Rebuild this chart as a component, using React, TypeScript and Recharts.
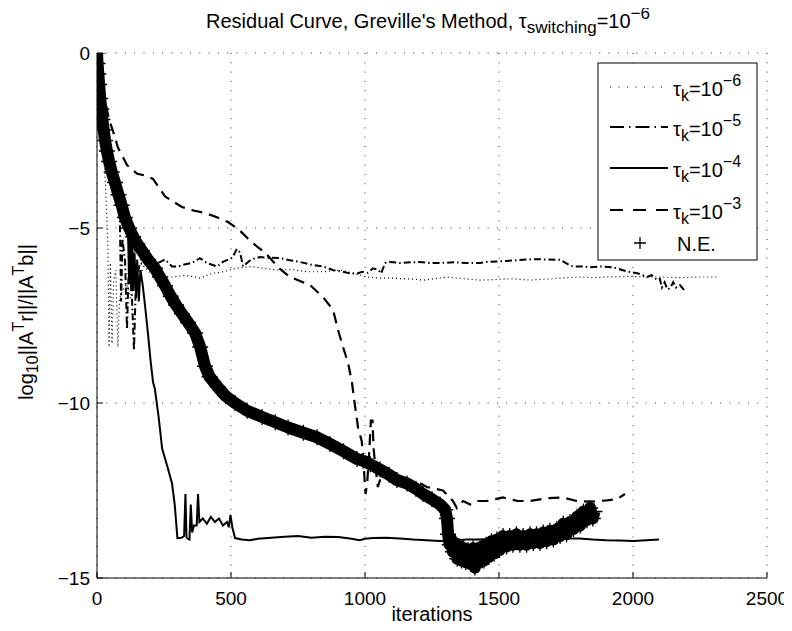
import { LineChart, Line, XAxis, YAxis, CartesianGrid } from "recharts";

// [iteration, log10 residual]
const tau6: [number, number][] = [
  [0, 0], [15, -1.5], [30, -3.5], [40, -5.3], [45, -8.4], [50, -6.0], [56, -8.3], [62, -6.5],
  [70, -6.2], [78, -8.4], [84, -7.0], [95, -6.8], [110, -6.6], [125, -7.0], [140, -6.3],
  [155, -6.5], [175, -6.1], [200, -6.3], [230, -6.4], [284, -6.4], [330, -6.35], [384, -6.43],
  [430, -6.3], [470, -6.25], [520, -6.15], [571, -6.1], [620, -6.15], [671, -6.2], [720, -6.18],
  [784, -6.25], [850, -6.25], [907, -6.2], [960, -6.3], [1007, -6.4], [1056, -6.43], [1093, -6.43],
  [1140, -6.45], [1180, -6.46], [1217, -6.49], [1260, -6.45], [1306, -6.4], [1370, -6.45],
  [1429, -6.49], [1490, -6.47], [1552, -6.45], [1616, -6.49], [1653, -6.47], [1700, -6.45],
  [1750, -6.42], [1802, -6.4], [1850, -6.42], [1900, -6.4], [1989, -6.38], [2050, -6.4],
  [2100, -6.4], [2175, -6.42], [2240, -6.4], [2313, -6.4],
];

const tau5: [number, number][] = [
  [0, 0], [20, -1.5], [45, -3], [70, -4.0], [85, -4.6], [90, -7.1], [95, -5.3], [105, -6.0],
  [112, -7.9], [118, -6.2], [128, -6.5], [138, -8.5], [145, -6.6], [160, -6.0], [200, -6.1],
  [254, -5.9], [280, -6.1], [303, -6.1], [321, -6.05], [354, -6.0], [384, -5.86], [410, -6.0],
  [448, -6.1], [470, -5.97], [505, -5.85], [522, -5.6], [534, -5.7], [545, -6.1], [575, -5.9],
  [608, -5.83], [640, -5.85], [683, -5.86], [720, -5.92], [757, -5.97], [800, -6.05], [843, -6.1],
  [880, -6.2], [918, -6.25], [945, -6.3], [970, -6.3], [990, -6.25], [1010, -6.28], [1030, -6.15],
  [1050, -6.2], [1060, -6.3], [1075, -6.0], [1093, -5.97], [1130, -6.0], [1170, -5.98],
  [1205, -5.97], [1240, -6.0], [1280, -6.0], [1330, -5.98], [1381, -6.0], [1429, -6.0],
  [1455, -5.97], [1504, -5.95], [1530, -5.94], [1570, -5.92], [1604, -5.9], [1640, -5.89],
  [1680, -5.9], [1728, -5.91], [1760, -6.05], [1776, -6.1], [1810, -6.1], [1840, -6.12],
  [1880, -6.1], [1925, -6.12], [1960, -6.2], [1989, -6.26], [2020, -6.3], [2052, -6.4],
  [2070, -6.35], [2090, -6.49], [2100, -6.45], [2108, -6.7], [2118, -6.55], [2128, -6.75],
  [2138, -6.73], [2150, -6.55], [2160, -6.7], [2175, -6.63], [2188, -6.75], [2201, -6.7],
];

const tau4: [number, number][] = [
  [0, 0], [10, -0.8], [25, -1.7], [45, -2.6], [65, -3.4], [85, -4.1], [105, -4.8], [116, -5.2],
  [120, -6.6], [124, -5.4], [128, -6.8], [132, -5.5], [136, -6.8], [140, -5.7], [146, -7.0],
  [150, -5.9], [156, -7.1], [162, -6.2], [170, -6.6], [179, -7.2], [190, -8.0], [200, -8.8],
  [209, -9.4], [216, -9.6], [230, -10.4], [243, -11.3], [262, -11.8], [280, -12.3], [290, -12.9],
  [300, -13.86], [315, -13.85], [325, -13.8], [330, -12.6], [334, -13.85], [345, -13.9],
  [350, -12.9], [355, -13.7], [362, -13.5], [372, -13.5], [377, -12.6], [382, -13.4],
  [395, -13.3], [410, -13.45], [425, -13.25], [440, -13.4], [455, -13.3], [470, -13.5],
  [485, -13.4], [492, -13.55], [498, -13.2], [505, -13.55], [515, -13.86], [540, -13.9],
  [570, -13.92], [600, -13.88], [650, -13.85], [700, -13.82], [750, -13.8], [800, -13.85],
  [850, -13.82], [900, -13.83], [950, -13.88], [980, -13.92], [1000, -13.88], [1030, -13.86],
  [1080, -13.85], [1130, -13.87], [1180, -13.9], [1230, -13.92], [1280, -13.94], [1330, -13.93],
  [1380, -13.9], [1430, -13.9], [1500, -13.88], [1550, -13.87], [1600, -13.88], [1650, -13.9],
  [1700, -13.9], [1750, -13.87], [1800, -13.87], [1850, -13.9], [1900, -13.92], [1950, -13.93],
  [2000, -13.94], [2050, -13.92], [2097, -13.9],
];

const tau3: [number, number][] = [
  [0, 0], [20, -1.0], [45, -1.9], [67, -2.4], [78, -2.7], [112, -3.2], [150, -3.45], [179, -3.5],
  [209, -3.6], [254, -4.1], [317, -4.4], [360, -4.5], [403, -4.57], [450, -4.7], [489, -4.83],
  [530, -5.05], [563, -5.3], [600, -5.55], [627, -5.7], [680, -6.15], [720, -6.4], [795, -6.63],
  [843, -6.97], [881, -7.34], [899, -7.9], [918, -8.4], [937, -8.86], [951, -9.4], [963, -10.1],
  [974, -10.7], [988, -11.1], [995, -11.8], [1002, -12.6], [1008, -12.3], [1015, -11.5],
  [1022, -10.5], [1028, -10.5], [1032, -11.3], [1040, -11.9], [1048, -12.4], [1060, -12.1],
  [1100, -12.1], [1150, -12.2], [1198, -12.26], [1231, -12.4], [1291, -12.5], [1328, -12.8],
  [1343, -13.0], [1366, -12.8], [1392, -12.9], [1420, -12.8], [1455, -12.8], [1515, -12.7],
  [1570, -12.8], [1616, -12.8], [1680, -12.72], [1739, -12.7], [1790, -12.8], [1840, -12.82],
  [1903, -12.78], [1940, -12.75], [1970, -12.6],
];

const normalEq: [number, number][] = [
  [0, 0], [2, -0.3], [5, -0.6], [8, -0.9], [12, -1.3], [16, -1.6], [20, -1.9], [25, -2.2],
  [30, -2.5], [37, -2.8], [45, -3.1], [55, -3.4], [67, -3.7], [80, -4.05], [92, -4.35],
  [104, -4.7], [120, -5.0], [135, -5.25], [150, -5.45], [168, -5.65], [190, -5.9], [216, -6.15],
  [235, -6.4], [254, -6.65], [275, -6.95], [295, -7.2], [317, -7.45], [340, -7.7], [366, -8.0],
  [385, -8.4], [403, -8.95], [420, -9.25], [451, -9.55], [480, -9.8], [515, -10.0], [560, -10.22],
  [616, -10.4], [665, -10.55], [713, -10.7], [770, -10.85], [821, -10.98], [869, -11.17],
  [920, -11.38], [970, -11.6], [993, -11.65], [1020, -11.75], [1056, -11.9], [1090, -12.05],
  [1119, -12.2], [1157, -12.3], [1190, -12.45], [1217, -12.6], [1250, -12.75], [1280, -12.9],
  [1299, -13.05], [1306, -13.3], [1310, -13.75], [1316, -14.05], [1322, -13.9], [1328, -14.25],
  [1336, -14.0], [1344, -14.45], [1352, -14.1], [1360, -14.5], [1368, -14.15], [1376, -14.55],
  [1385, -14.2], [1394, -14.6], [1403, -14.15], [1410, -14.7], [1418, -14.2], [1426, -14.55],
  [1435, -14.1], [1444, -14.5], [1452, -14.05], [1462, -14.4], [1472, -13.95], [1482, -14.3],
  [1492, -13.9], [1502, -14.2], [1515, -13.8], [1528, -14.1], [1540, -13.8], [1552, -14.05],
  [1565, -13.75], [1578, -14.05], [1590, -13.8], [1603, -14.05], [1616, -13.75], [1628, -14.0],
  [1640, -13.75], [1653, -14.0], [1665, -13.7], [1678, -13.95], [1690, -13.65], [1703, -13.9],
  [1716, -13.6], [1728, -13.8], [1740, -13.45], [1752, -13.75], [1765, -13.4], [1778, -13.6],
  [1791, -13.25], [1803, -13.5], [1815, -13.1], [1828, -13.35], [1840, -13.0], [1850, -13.3],
  [1856, -13.1],
];

const xTicks = [0, 500, 1000, 1500, 2000, 2500];
const yTicks = [0, -5, -10, -15];
const tauExponents = [-6, -5, -4, -3];

const FONT = '"Liberation Sans", Arial, Helvetica, sans-serif';

const toRows = (pts: [number, number][]) => pts.map(([x, y]) => ({ x, y }));

const fmtNum = (v: number) => (v < 0 ? "\u2212" + Math.abs(v) : String(v));

// inward tick + label below the axis
const XTick = (props: any) => {
  const { x, y, payload } = props;
  return (
    <g>
      <line x1={x} x2={x} y1={y} y2={y - 6} stroke="#000" />
      <text x={x} y={y + 27} textAnchor="middle" fontSize={19} fontFamily={FONT} fill="#000">
        {payload.value}
      </text>
    </g>
  );
};

const YTick = (props: any) => {
  const { x, y, payload } = props;
  return (
    <g>
      <line x1={x} x2={x + 6} y1={y} y2={y} stroke="#000" />
      <text x={x - 7} y={y + 7} textAnchor="end" fontSize={19} fontFamily={FONT} fill="#000">
        {fmtNum(payload.value)}
      </text>
    </g>
  );
};

const renderPlus = (props: any) => {
  const { cx, cy, index } = props;
  if (cx == null || cy == null) return <g key={`ne-${index}`} />;
  return (
    <path
      key={`ne-${index}`}
      d={`M${cx - 8},${cy}H${cx + 8}M${cx},${cy - 8}V${cy + 8}`}
      stroke="#000"
      strokeWidth={1.3}
      fill="none"
    />
  );
};

const lineStyles = [
  { dash: "1 7.5", plotDash: "1 3", width: 1.2 },
  { dash: "14 5 1.5 5", plotDash: "7 3 1.5 3", width: 2 },
  { dash: undefined, plotDash: undefined, width: 2 },
  { dash: "13 10", plotDash: "11 7", width: 2.2 },
];

const Overlay = () => {
  const rowY = [79, 119, 160, 202];
  return (
    <svg
      width={784}
      height={623}
      style={{ position: "absolute", left: 0, top: 0, overflow: "visible", pointerEvents: "none" }}
      fontFamily={FONT}
    >
      {/* title */}
      <text x={420} y={20} textAnchor="middle" fontSize={20} fill="#000">
        Residual Curve, Greville's Method, τ
        <tspan fontSize={17} dy={5}>switching</tspan>
        <tspan dy={-5}>=10</tspan>
        <tspan fontSize={17} dy={-9}>{"\u22126"}</tspan>
      </text>
      {/* axis labels */}
      <text x={424} y={613} textAnchor="middle" fontSize={20} fill="#000">
        iterations
      </text>
      <text transform="rotate(-90)" x={-314} y={25} textAnchor="middle" fontSize={20} fill="#000">
        log<tspan fontSize={16} dy={5}>10</tspan>
        <tspan dy={-5}>||A</tspan>
        <tspan fontSize={16} dy={-9}>T</tspan>
        <tspan dy={9}>r||/||A</tspan>
        <tspan fontSize={16} dy={-9}>T</tspan>
        <tspan dy={9}>b||</tspan>
      </text>
      {/* legend */}
      <rect x={590} y={55} width={159} height={197} fill="#fff" stroke="#000" strokeWidth={1} />
      {tauExponents.map((e, i) => (
        <g key={e}>
          <line
            x1={602}
            x2={660}
            y1={rowY[i]}
            y2={rowY[i]}
            stroke="#000"
            strokeWidth={lineStyles[i].width}
            strokeDasharray={lineStyles[i].dash}
          />
          <text x={665} y={rowY[i] + 9} fontSize={20} fill="#000">
            τ<tspan fontSize={16} dy={5}>k</tspan>
            <tspan dy={-5}>=10</tspan>
            <tspan fontSize={16} dy={-10}>{fmtNum(e)}</tspan>
          </text>
        </g>
      ))}
      <path d="M626,235H638M632,229V241" stroke="#000" strokeWidth={1.3} />
      <text x={669} y={243} fontSize={20} fill="#000">
        N.E.
      </text>
    </svg>
  );
};

const series = [tau6, tau5, tau4, tau3];

export default function App() {
  return (
    <div style={{ position: "relative", width: 784, height: 623, marginBottom: -8 }}>
      <LineChart
        width={784}
        height={615}
        margin={{ top: 45, right: 25, left: 29, bottom: 15 }}
        style={{ fontFamily: FONT }}
      >
        <CartesianGrid stroke="#333" strokeDasharray="1 8.3" />
        <XAxis
          dataKey="x"
          type="number"
          domain={[0, 2500]}
          ticks={xTicks}
          interval={0}
          height={30}
          tickSize={0}
          tickMargin={0}
          tickLine={false}
          axisLine={{ stroke: "#000" }}
          tick={XTick}
          allowDataOverflow
        />
        <YAxis
          dataKey="y"
          type="number"
          domain={[-15, 0]}
          ticks={yTicks}
          interval={0}
          width={60}
          tickSize={0}
          tickMargin={0}
          tickLine={false}
          axisLine={{ stroke: "#000" }}
          tick={YTick}
          allowDataOverflow
        />
        {series.map((s, i) => (
          <Line
            key={i}
            data={toRows(s)}
            dataKey="y"
            type="linear"
            stroke="#000"
            strokeWidth={lineStyles[i].width}
            strokeDasharray={lineStyles[i].plotDash}
            dot={false}
            isAnimationActive={false}
          />
        ))}
        <Line
          data={toRows(normalEq)}
          dataKey="y"
          type="linear"
          stroke="#000"
          strokeWidth={12}
          strokeLinejoin="round"
          dot={renderPlus}
          isAnimationActive={false}
        />
      </LineChart>
      <Overlay />
    </div>
  );
}
